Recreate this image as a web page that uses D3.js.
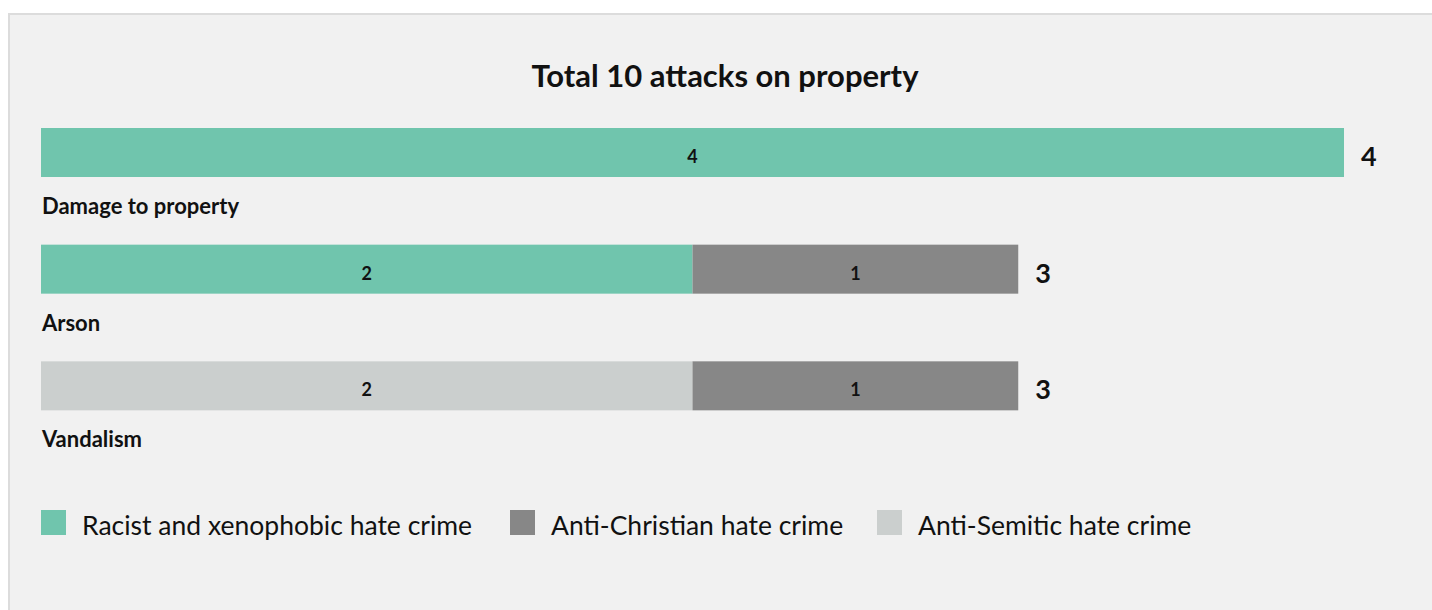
<!DOCTYPE html>
<html><head><meta charset="utf-8">
<script src="https://cdn.jsdelivr.net/npm/d3@7"></script>
<style>
html,body{margin:0;padding:0;background:#fff;}
svg{display:block;font-family:Lato, "Noto Sans", sans-serif;}
</style></head>
<body>
<script>
const title = "Total 10 attacks on property";
const categories = ["Damage to property", "Arson", "Vandalism"];
const seriesNames = ["Racist and xenophobic hate crime", "Anti-Christian hate crime", "Anti-Semitic hate crime"];
const seriesColors = ["#70c5ad", "#878787", "#cbcfce"];
const racistValues = [4, 2, 0];
const antiChristianValues = [0, 1, 1];
const antiSemiticValues = [0, 0, 2];
const stackOrder = [0, 2, 1];
const xMax = 4;

const W = 1432, H = 610;
const svg = d3.select("body").append("svg").attr("width", W).attr("height", H);
svg.append("rect").attr("x", 9).attr("y", 14).attr("width", W).attr("height", H)
  .attr("fill", "#f1f1f1").attr("stroke", "#dcdcdc").attr("stroke-width", 2);

svg.append("text").attr("x", 725).attr("y", 87).attr("text-anchor", "middle")
  .attr("font-size", 31).attr("font-weight", 700).attr("fill", "#111").text(title);

const x = d3.scaleLinear().domain([0, xMax]).range([41, 1344]);
const y = d3.scaleBand().domain(categories).range([128, 478]).paddingInner(0).paddingOuter(0);
const barH = 49;

const valuesBySeries = [racistValues, antiChristianValues, antiSemiticValues];
const rows = categories.map((c, i) => {
  let acc = 0;
  const segs = [];
  stackOrder.forEach(s => {
    const v = valuesBySeries[s][i];
    if (v > 0) { segs.push({s, v, x0: acc, x1: acc + v}); acc += v; }
  });
  return {c, segs, total: acc};
});

const g = svg.append("g");
const row = g.selectAll("g.row").data(rows).join("g").attr("class", "row")
  .attr("transform", d => `translate(0,${y(d.c)})`);
row.selectAll("rect").data(d => d.segs).join("rect")
  .attr("x", d => x(d.x0)).attr("width", d => x(d.x1) - x(d.x0))
  .attr("y", 0).attr("height", barH).attr("fill", d => seriesColors[d.s]);
row.selectAll("text.seg").data(d => d.segs).join("text").attr("class", "seg")
  .attr("x", d => (x(d.x0) + x(d.x1)) / 2).attr("y", 35)
  .attr("text-anchor", "middle").attr("font-size", 18).attr("font-weight", 700).attr("fill", "#111")
  .text(d => d.v);
row.append("text").attr("x", d => x(d.total) + 17).attr("y", 38)
  .attr("font-size", 27).attr("font-weight", 700).attr("fill", "#111").text(d => d.total);
row.append("text").attr("x", 42).attr("y", 86)
  .attr("font-size", 22).attr("font-weight", 700).attr("fill", "#111").text(d => d.c);

const legendX = [41, 510, 877];
const lg = svg.selectAll("g.leg").data(seriesNames).join("g").attr("class", "leg")
  .attr("transform", (d, i) => `translate(${legendX[i]},510)`);
lg.append("rect").attr("width", 25).attr("height", 25).attr("fill", (d, i) => seriesColors[i]);
lg.append("text").attr("x", 41).attr("y", 25).attr("font-size", 26.5).attr("fill", "#111").text(d => d);
</script>
</body></html>
